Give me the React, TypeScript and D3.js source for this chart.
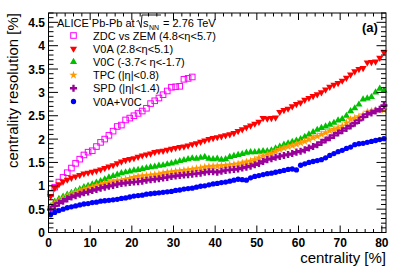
import * as d3 from 'd3';

const W = 407;
const H = 277;
const MARGIN = { top: 13, right: 21, bottom: 44.5, left: 48.5 };

// centrality bin centres [%]
const BINS = [
  0.5, 1.5, 2.5, 3.5, 4.5, 5.5, 6.5, 7.5, 8.5, 9.5, 10.5, 11.5, 12.5, 13.5, 14.5, 15.5, 16.5, 17.5, 18.5, 19.5,
  20.5, 21.5, 22.5, 23.5, 24.5, 25.5, 26.5, 27.5, 28.5, 29.5, 30.5, 31.5, 32.5, 33.5, 34.5, 35.5, 36.5, 37.5, 38.5, 39.5,
  40.5, 41.5, 42.5, 43.5, 44.5, 45.5, 46.5, 47.5, 48.5, 49.5, 50.5, 51.5, 52.5, 53.5, 54.5, 55.5, 56.5, 57.5, 58.5, 59.5,
  60.5, 61.5, 62.5, 63.5, 64.5, 65.5, 66.5, 67.5, 68.5, 69.5, 70.5, 71.5, 72.5, 73.5, 74.5, 75.5, 76.5, 77.5, 78.5, 79.5,
  80.5,
];

const ZDC = [
  0.83, 0.97, 1.08, 1.18, 1.28, 1.38, 1.48, 1.57, 1.66, 1.72, 1.75, 1.84, 1.93, 2.0, 2.08, 2.17, 2.27, 2.3, 2.41, 2.45,
  2.5, 2.55, 2.6, 2.66, 2.76, 2.82, 2.88, 2.95, 3.03, 3.11, 3.12, 3.13, 3.28, 3.3, 3.33,
];

const V0A = [
  0.78, 0.95, 1.03, 1.09, 1.13, 1.17, 1.2, 1.23, 1.26, 1.28, 1.3, 1.32, 1.35, 1.38, 1.41, 1.44, 1.48, 1.52, 1.55, 1.57,
  1.59, 1.62, 1.65, 1.67, 1.69, 1.72, 1.74, 1.75, 1.77, 1.79, 1.81, 1.83, 1.84, 1.86, 1.89, 1.91, 1.94, 1.97, 2.0, 2.02,
  2.04, 2.06, 2.08, 2.1, 2.13, 2.17, 2.21, 2.25, 2.29, 2.33, 2.37, 2.45, 2.44, 2.45, 2.46, 2.58, 2.62, 2.65, 2.7, 2.75,
  2.78, 2.84, 2.88, 2.92, 2.96, 3.0, 3.06, 3.12, 3.16, 3.2, 3.25, 3.31, 3.38, 3.45, 3.5, 3.52, 3.64, 3.65, 3.66, 3.74,
  3.86,
];

const V0C = [
  0.56, 0.66, 0.72, 0.77, 0.81, 0.85, 0.89, 0.93, 0.97, 1.0, 1.03, 1.07, 1.1, 1.14, 1.18, 1.21, 1.24, 1.27, 1.29, 1.31,
  1.33, 1.34, 1.36, 1.38, 1.4, 1.41, 1.43, 1.44, 1.46, 1.48, 1.5, 1.53, 1.55, 1.57, 1.59, 1.58, 1.6, 1.62, 1.58, 1.57,
  1.58, 1.56, 1.57, 1.62, 1.64, 1.66, 1.68, 1.71, 1.72, 1.72, 1.73, 1.74, 1.74, 1.76, 1.8, 1.84, 1.88, 1.91, 1.94, 1.97,
  2.0, 2.05, 2.1, 2.15, 2.2, 2.24, 2.27, 2.31, 2.35, 2.4, 2.43, 2.5, 2.6, 2.66, 2.74, 2.85, 2.87, 2.9, 3.0, 3.08,
  3.04,
];

const TPC = [
  0.54, 0.62, 0.68, 0.73, 0.78, 0.82, 0.86, 0.89, 0.92, 0.95, 0.97, 1.0, 1.02, 1.05, 1.07, 1.09, 1.11, 1.12, 1.14, 1.16,
  1.18, 1.2, 1.21, 1.22, 1.23, 1.24, 1.25, 1.27, 1.29, 1.3, 1.31, 1.32, 1.33, 1.34, 1.35, 1.37, 1.38, 1.4, 1.41, 1.42,
  1.42, 1.43, 1.44, 1.45, 1.46, 1.47, 1.49, 1.51, 1.53, 1.56, 1.6, 1.64, 1.67, 1.7, 1.74, 1.78, 1.81, 1.84, 1.86, 1.89,
  1.92, 1.95, 1.99, 2.03, 2.06, 2.1, 2.14, 2.18, 2.21, 2.24, 2.28, 2.35, 2.42, 2.45, 2.48, 2.52, 2.58, 2.6, 2.62, 2.63,
  2.62,
];

const SPD = [
  0.49, 0.57, 0.63, 0.67, 0.72, 0.76, 0.79, 0.82, 0.85, 0.87, 0.9, 0.92, 0.95, 0.97, 0.99, 1.01, 1.03, 1.05, 1.06, 1.07,
  1.08, 1.09, 1.1, 1.12, 1.13, 1.14, 1.15, 1.17, 1.18, 1.2, 1.21, 1.22, 1.23, 1.24, 1.25, 1.26, 1.27, 1.29, 1.3, 1.3,
  1.29, 1.31, 1.33, 1.34, 1.35, 1.36, 1.38, 1.4, 1.42, 1.45, 1.48, 1.52, 1.56, 1.58, 1.61, 1.63, 1.65, 1.67, 1.69, 1.72,
  1.74, 1.77, 1.81, 1.84, 1.88, 1.93, 1.98, 2.03, 2.08, 2.13, 2.18, 2.23, 2.28, 2.34, 2.4, 2.47, 2.53, 2.56, 2.6, 2.64,
  2.72,
];

const V0AV0C = [
  0.38, 0.43, 0.47, 0.5, 0.53, 0.55, 0.57, 0.59, 0.61, 0.62, 0.64, 0.65, 0.67, 0.68, 0.69, 0.7, 0.71, 0.73, 0.74, 0.76,
  0.78, 0.79, 0.8, 0.82, 0.83, 0.84, 0.85, 0.86, 0.87, 0.88, 0.9, 0.91, 0.93, 0.94, 0.95, 0.97, 0.99, 1.0, 1.02, 1.04,
  1.05, 1.07, 1.08, 1.1, 1.12, 1.14, 1.13, 1.12, 1.17, 1.2, 1.22, 1.24, 1.26, 1.27, 1.29, 1.31, 1.33, 1.35, 1.36, 1.34,
  1.44, 1.47, 1.5, 1.52, 1.54, 1.56, 1.6, 1.65, 1.69, 1.73, 1.76, 1.8, 1.83, 1.88, 1.9, 1.91, 1.93, 1.95, 1.97, 1.99,
  2.01,
];

const X_TICKS = [0, 10, 20, 30, 40, 50, 60, 70, 80];
const Y_TICKS = [0, 0.5, 1, 1.5, 2, 2.5, 3, 3.5, 4, 4.5];

type Shape = 'square' | 'down' | 'up' | 'star' | 'cross' | 'circle';

interface Series {
  label: string;
  values: number[];
  color: string;
  shape: Shape;
}

const SERIES: Series[] = [
  { label: 'ZDC vs ZEM (4.8<\u03b7<5.7)', values: ZDC, color: '#ff00ff', shape: 'square' },
  { label: 'V0A (2.8<\u03b7<5.1)', values: V0A, color: '#ff0000', shape: 'down' },
  { label: 'V0C (-3.7< \u03b7<-1.7)', values: V0C, color: '#00c000', shape: 'up' },
  { label: 'TPC (|\u03b7|<0.8)', values: TPC, color: '#ff9900', shape: 'star' },
  { label: 'SPD (|\u03b7|<1.4)', values: SPD, color: '#990099', shape: 'cross' },
  { label: 'V0A+V0C', values: V0AV0C, color: '#0000ff', shape: 'circle' },
];

const FONT = '"Liberation Sans", Arial, Helvetica, sans-serif';

const symbolPath = (shape: Shape) => {
  switch (shape) {
    case 'down':
    case 'up':
      return d3.symbol(d3.symbolTriangle, 22)()!;
    case 'star':
      return d3.symbol(d3.symbolStar, 22)()!;
    case 'cross':
      return d3.symbol(d3.symbolCross, 28)()!;
    case 'circle':
      return d3.symbol(d3.symbolCircle, 22)()!;
    default:
      return '';
  }
};

function Marker({ shape, color, x, y }: { shape: Shape; color: string; x: number; y: number }) {
  if (shape === 'square') {
    return <rect x={x - 2.8} y={y - 2.8} width={5.6} height={5.6} fill="none" stroke={color} strokeWidth={1} />;
  }
  const rot = shape === 'down' ? ' rotate(180)' : '';
  return <path d={symbolPath(shape)} transform={`translate(${x},${y})${rot}`} fill={color} />;
}

export default function App() {
  const innerW = W - MARGIN.left - MARGIN.right;
  const innerH = H - MARGIN.top - MARGIN.bottom;
  const x0 = MARGIN.left;
  const y0 = MARGIN.top;

  const x = d3.scaleLinear().domain([0, 81]).range([x0, x0 + innerW]);
  const y = d3.scaleLinear().domain([0, 4.7]).range([y0 + innerH, y0]);

  const xMinor = d3.range(0, 81.001, 2);
  const yMinor = d3.range(0, 4.7001, 0.1);

  const bottom = y0 + innerH;
  const right = x0 + innerW;

  return (
    <svg width={W} height={H} style={{ position: 'absolute', left: 0, top: 0, background: '#fff' }} fontFamily={FONT}>
      <rect x={0} y={0} width={W} height={H} fill="#fff" />

      {/* data */}
      {SERIES.map((s) => (
        <g key={s.label}>
          {s.values.map((v, i) => (
            <Marker key={i} shape={s.shape} color={s.color} x={x(BINS[i])} y={y(v)} />
          ))}
        </g>
      ))}

      {/* frame */}
      <rect x={x0} y={y0} width={innerW} height={innerH} fill="none" stroke="#000" strokeWidth={1} />

      {/* x ticks, bottom and top */}
      {xMinor.map((t) => {
        const major = X_TICKS.includes(Math.round(t));
        const len = major ? 7 : 3.5;
        return (
          <g key={`xt${t}`} stroke="#000" strokeWidth={1}>
            <line x1={x(t)} x2={x(t)} y1={bottom} y2={bottom - len} />
            <line x1={x(t)} x2={x(t)} y1={y0} y2={y0 + len} />
          </g>
        );
      })}
      {/* y ticks, left and right */}
      {yMinor.map((t) => {
        const major = Math.abs(t * 2 - Math.round(t * 2)) < 1e-6;
        const len = major ? 9.5 : 5;
        return (
          <g key={`yt${t.toFixed(1)}`} stroke="#000" strokeWidth={1}>
            <line x1={x0} x2={x0 + len} y1={y(t)} y2={y(t)} />
            <line x1={right} x2={right - len} y1={y(t)} y2={y(t)} />
          </g>
        );
      })}

      {/* tick labels */}
      {X_TICKS.map((t) => (
        <text key={`xl${t}`} x={x(t)} y={bottom + 14} textAnchor="middle" fontSize={12} fontWeight="bold">
          {t}
        </text>
      ))}
      {Y_TICKS.map((t) => (
        <text key={`yl${t}`} x={45} y={y(t) + 4.5} textAnchor="end" fontSize={12} fontWeight="bold">
          {t}
        </text>
      ))}

      {/* axis titles */}
      <text x={right} y={263} textAnchor="end" fontSize={15}>
        centrality [%]
      </text>
      <text transform={`translate(18,${y0}) rotate(-90)`} textAnchor="end" fontSize={15}>
        centrality resolution [%]
      </text>

      {/* header */}
      <text x={57} y={27} fontSize={11}>
        ALICE Pb-Pb at
      </text>
      <path d="M136.5,21.5 L138.5,20.5 L141,27.5 L142,15 L161,15" fill="none" stroke="#000" strokeWidth={0.9} />
      <text x={143} y={27} fontSize={11}>
        s
      </text>
      <text x={149} y={29.5} fontSize={7}>
        NN
      </text>
      <text x={163} y={27} fontSize={11}>
        = 2.76 TeV
      </text>
      <text x={362} y={32} fontSize={13} fontWeight="bold">
        (a)
      </text>

      {/* legend */}
      {SERIES.map((s, i) => {
        const ly = 35.5 + i * 13.2;
        return (
          <g key={`lg${i}`}>
            <Marker shape={s.shape} color={s.color} x={73.5} y={ly} />
            <text x={93} y={ly + 4} fontSize={11}>
              {s.label}
            </text>
          </g>
        );
      })}
    </svg>
  );
}
